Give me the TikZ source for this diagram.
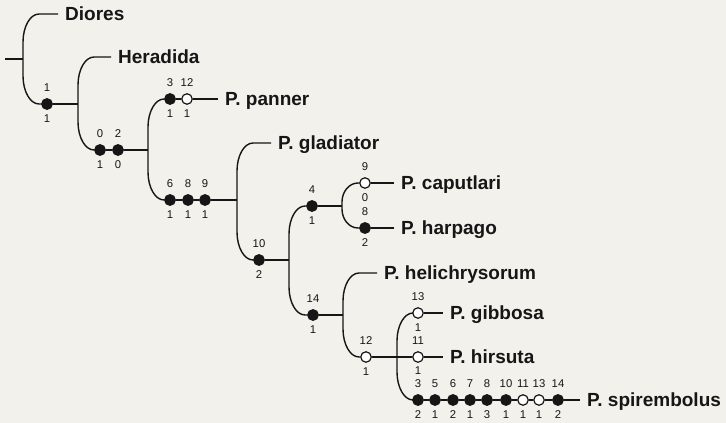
\documentclass[tikz,border=0pt]{standalone}
\usepackage{fontspec}
\setmainfont{Liberation Sans}
\usetikzlibrary{calc}
\definecolor{bg}{RGB}{243,241,235}
\definecolor{ink}{RGB}{22,22,22}
\newcommand\tb[3]{%
  \node[num] at ($(#1)+(0,-16.5)$) {#2};
  \node[num] at ($(#1)+(0,15)$) {#3};}
\newcommand\brk[6]{%
  \draw[ln] (#1) -- ($(#2)+(#5,0)$) .. controls ($(#2)+(0.45*#5,0)$) and ($(#2)+(0,0.45*#6)$) .. ($(#2)+(0,#6)$)
    -- ($(#3)+(0,-#6)$) .. controls ($(#3)+(0,-0.45*#6)$) and ($(#3)+(0.45*#5,0)$) .. ($(#3)+(#5,0)$) -- (#4);}
\begin{document}
\begin{tikzpicture}[x=1pt,y=-1pt,
  ln/.style={draw=ink,line width=1.4pt},
  fn/.style={circle,fill=ink,draw=ink,line width=0.8pt,minimum size=11pt,inner sep=0pt},
  on/.style={circle,fill=white,draw=ink,line width=1.2pt,minimum size=10.5pt,inner sep=0pt},
  num/.style={inner sep=0pt,font=\fontsize{11.3}{12}\selectfont,text=ink},
  sp/.style={anchor=base west,inner sep=0pt,inner xsep=7pt,font=\fontsize{19}{20}\selectfont\bfseries,text=ink}]
\useasboundingbox[fill=bg] (0,0) rectangle (726,423);
% species labels
\node[sp] (diores) at (58,20.5) {Diores};
\node[sp] (heradida) at (111,63.5) {Heradida};
\node[sp] (panner) at (218,105.5) {P. panner};
\node[sp] (gladiator) at (271,149.5) {P. gladiator};
\node[sp] (caputlari) at (394,189.5) {P. caputlari};
\node[sp] (harpago) at (394,234.5) {P. harpago};
\node[sp] (helichrysorum) at (377,279.5) {P. helichrysorum};
\node[sp] (gibbosa) at (443,319.5) {P. gibbosa};
\node[sp] (hirsuta) at (443,363.5) {P. hirsuta};
\node[sp] (spirembolus) at (580,406.5) {P. spirembolus};
% character nodes
\node[fn] (a1) at (47,104) {};   \tb{a1}{1}{1}
\node[fn] (a0) at (100,150) {};  \tb{a0}{0}{1}
\node[fn] (a2) at (118,150) {};  \tb{a2}{2}{0}
\node[fn] (b3) at (170,99) {};   \tb{b3}{3}{1}
\node[on] (b12) at (187,99) {};  \tb{b12}{12}{1}
\node[fn] (c6) at (170,200) {};  \tb{c6}{6}{1}
\node[fn] (c8) at (188,200) {};  \tb{c8}{8}{1}
\node[fn] (c9) at (205,200) {};  \tb{c9}{9}{1}
\node[fn] (d10) at (259,260) {}; \tb{d10}{10}{2}
\node[fn] (e4) at (312,206) {};  \tb{e4}{4}{1}
\node[on] (f9) at (365,183) {};  \tb{f9}{9}{0}
\node[fn] (f8) at (365,228) {};  \tb{f8}{8}{2}
\node[fn] (g14) at (313,315) {}; \tb{g14}{14}{1}
\node[on] (h12) at (366,357) {}; \tb{h12}{12}{1}
\node[on] (i13) at (418,313) {}; \tb{i13}{13}{1}
\node[on] (j11) at (418,357) {}; \node[num] at ($(j11)+(0,-16.5)$) {11}; \node[num] at ($(j11)+(0,13.5)$) {1};
\node[fn] (k3) at (418,400) {};  \tb{k3}{3}{2}
\node[fn] (k5) at (435,400) {};  \tb{k5}{5}{1}
\node[fn] (k6) at (453,400) {};  \tb{k6}{6}{2}
\node[fn] (k7) at (470,400) {};  \tb{k7}{7}{1}
\node[fn] (k8) at (487,400) {};  \tb{k8}{8}{3}
\node[fn] (k10) at (506,400) {}; \tb{k10}{10}{1}
\node[on] (k11) at (523,400) {}; \tb{k11}{11}{1}
\node[on] (k13) at (539,400) {}; \tb{k13}{13}{1}
\node[fn] (k14) at (558,400) {}; \tb{k14}{14}{2}
% bracket corners
\coordinate (root) at (5,59);
\coordinate (Rt) at (23,14);  \coordinate (Rb) at (23,104);
\coordinate (Ht) at (78,57);  \coordinate (Hb) at (78,150);
\coordinate (Pt) at (148,99); \coordinate (Pb) at (148,200);
\coordinate (Gt) at (237,143); \coordinate (Gb) at (237,260);
\coordinate (Et) at (289,206); \coordinate (Eb) at (289,315);
\coordinate (Ft) at (342,183); \coordinate (Fb) at (342,228);
\coordinate (Kt) at (343,273); \coordinate (Kb) at (343,357);
\coordinate (Lt) at (397,313); \coordinate (Lb) at (397,400);
% brackets
\brk{diores.west |- Rt}{Rt}{Rb}{a1}{16}{28}
\brk{heradida.west |- Ht}{Ht}{Hb}{a0}{16}{28}
\brk{b3}{Pt}{Pb}{c6}{16}{28}
\brk{gladiator.west |- Gt}{Gt}{Gb}{d10}{16}{28}
\brk{e4}{Et}{Eb}{g14}{16}{28}
\brk{f9}{Ft}{Fb}{f8}{16}{19}
\brk{helichrysorum.west |- Kt}{Kt}{Kb}{h12}{16}{28}
\brk{i13}{Lt}{Lb}{k3}{16}{28}
% joins and stems
\draw[ln] (root) -- (root -| Rt);
\draw[ln] (a1) -- (a1 -| Ht);
\draw[ln] (a0) -- (a2);
\draw[ln] (a2) -- (a2 -| Pt);
\draw[ln] (b3) -- (b12);
\draw[ln] (b12) -- (b12 -| panner.west);
\draw[ln] (c6) -- (c8);
\draw[ln] (c8) -- (c9);
\draw[ln] (c9) -- (c9 -| Gt);
\draw[ln] (d10) -- (d10 -| Et);
\draw[ln] (e4) -- (e4 -| Ft);
\draw[ln] (f9) -- (f9 -| caputlari.west);
\draw[ln] (f8) -- (f8 -| harpago.west);
\draw[ln] (g14) -- (g14 -| Kt);
\draw[ln] (h12) -- (j11);
\draw[ln] (i13) -- (i13 -| gibbosa.west);
\draw[ln] (j11) -- (j11 -| hirsuta.west);
\draw[ln] (k3) -- (k5);
\draw[ln] (k5) -- (k6);
\draw[ln] (k6) -- (k7);
\draw[ln] (k7) -- (k8);
\draw[ln] (k8) -- (k10);
\draw[ln] (k10) -- (k11);
\draw[ln] (k11) -- (k13);
\draw[ln] (k13) -- (k14);
\draw[ln] (k14) -- (k14 -| spirembolus.west);
\end{tikzpicture}
\end{document}
